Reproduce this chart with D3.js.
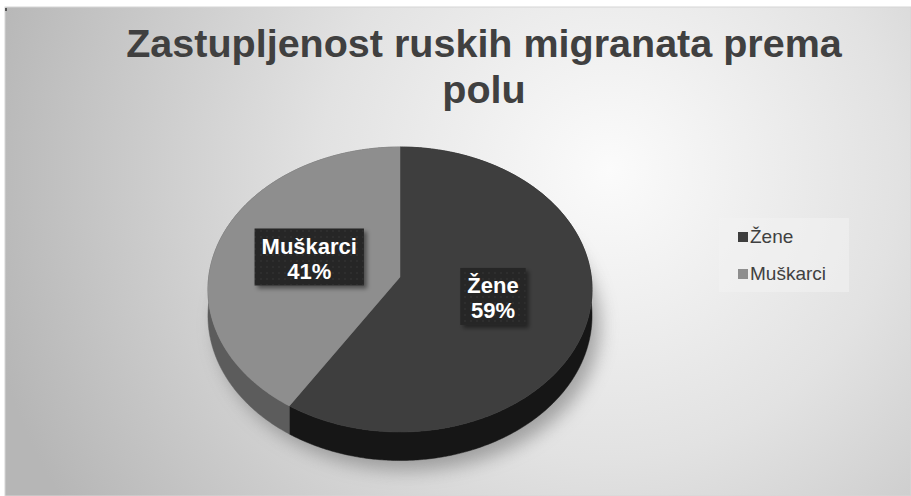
<!DOCTYPE html>
<html>
<head>
<meta charset="utf-8">
<script src="https://cdn.jsdelivr.net/npm/d3@7"></script>
<style>
  html, body { margin: 0; padding: 0; background: #ffffff; }
  svg { display: block; }
</style>
</head>
<body>
<svg id="chart" width="911" height="496"></svg>
<script>
// Chart data
const titleLines = ["Zastupljenost ruskih migranata prema", "polu"];
const categories = ["Žene", "Muškarci"];
const shares = [59, 41];
const topColors = ["#3e3e3e", "#8e8e8e"];
const sideColors = ["#161616", "#5c5c5c"];

const W = 911, H = 496;
const svg = d3.select("#chart");
const defs = svg.append("defs");

// Background of the chart area: soft radial light
const bg = defs.append("radialGradient").attr("id", "bgGrad")
  .attr("gradientUnits", "userSpaceOnUse")
  .attr("cx", 610).attr("cy", 170).attr("r", 640);
bg.append("stop").attr("offset", "0").attr("stop-color", "#fbfbfb");
bg.append("stop").attr("offset", "0.45").attr("stop-color", "#e2e2e2");
bg.append("stop").attr("offset", "1").attr("stop-color", "#b6b6b6");

svg.append("rect").attr("x", 5).attr("y", 7).attr("width", W - 5).attr("height", H - 7)
  .attr("fill", "url(#bgGrad)").attr("stroke", "#d6d6d6").attr("stroke-width", 1);
svg.append("rect").attr("x", 5).attr("y", 8).attr("width", 2).attr("height", 3).attr("fill", "#555");

// Title
const title = svg.append("text")
  .attr("text-anchor", "middle")
  .attr("font-family", "'Liberation Sans', Arial, sans-serif")
  .attr("font-weight", "bold").attr("font-size", 39.5)
  .attr("fill", "#404040");
titleLines.forEach((t, i) => {
  title.append("tspan").attr("x", 484).attr("y", 57 + i * 46).text(t);
});

// 3D pie projection with mild perspective
const cx = 400, cy = 277, A = 191.3, B = 141.4, persp = 0.0877, depth = 26;
const ang = d3.scaleLinear().domain([0, 2 * Math.PI]).range([0, 2 * Math.PI]);
function proj(theta, r, drop) {
  const u = r * Math.sin(theta), v = -r * Math.cos(theta);
  const w = 1 / (1 - persp * v);
  return [cx + A * u * w, cy + B * v * w + (drop ? depth * w : 0)];
}
function rim(a0, a1, drop) {
  const n = Math.max(8, Math.ceil((a1 - a0) / 0.01));
  return d3.range(n + 1).map(i => proj(ang(a0 + (a1 - a0) * i / n), 1, drop));
}

const arcs = d3.pie().sort(null).startAngle(0).endAngle(2 * Math.PI)(shares);
const line = d3.line();

// Soft shadow beneath the pie
const shf = defs.append("filter").attr("id", "pieShadow")
  .attr("x", "-20%").attr("y", "-20%").attr("width", "140%").attr("height", "140%");
shf.append("feGaussianBlur").attr("stdDeviation", 9);
const outline = rim(0, 2 * Math.PI, true);
svg.append("path")
  .attr("d", line(outline) + "Z")
  .attr("transform", "translate(8,10)")
  .attr("fill", "#6a6a6a").attr("opacity", 0.55)
  .attr("filter", "url(#pieShadow)");

const pieG = svg.append("g");
// Sides first
arcs.forEach((a, i) => {
  const top = rim(a.startAngle, a.endAngle, false);
  const bot = rim(a.startAngle, a.endAngle, true).reverse();
  pieG.append("path").attr("d", line(top.concat(bot)) + "Z")
    .attr("fill", sideColors[i]).attr("stroke", sideColors[i]).attr("stroke-width", 0.5);
});
// Top faces
arcs.forEach((a, i) => {
  const pts = [proj(0, 0, false)].concat(rim(a.startAngle, a.endAngle, false));
  pieG.append("path").attr("d", line(pts) + "Z")
    .attr("fill", topColors[i]).attr("stroke", topColors[i]).attr("stroke-width", 0.5);
});

// Data labels: dark dotted boxes with white text
const pat = defs.append("pattern").attr("id", "dots")
  .attr("patternUnits", "userSpaceOnUse").attr("width", 6).attr("height", 6);
pat.append("rect").attr("width", 6).attr("height", 6).attr("fill", "#262626");
pat.append("circle").attr("cx", 3).attr("cy", 3).attr("r", 0.8).attr("fill", "#353535");

const lf = defs.append("filter").attr("id", "labelShadow")
  .attr("x", "-20%").attr("y", "-20%").attr("width", "150%").attr("height", "150%");
lf.append("feDropShadow").attr("dx", 3).attr("dy", 3).attr("stdDeviation", 2)
  .attr("flood-color", "#000").attr("flood-opacity", 0.45);

arcs.forEach((a, i) => {
  const mid = (a.startAngle + a.endAngle) / 2;
  const [lx, ly] = proj(mid, 0.5, false);
  const g = svg.append("g");
  const box = g.append("rect").attr("fill", "url(#dots)").attr("filter", "url(#labelShadow)");
  const t = g.append("text").attr("text-anchor", "middle")
    .attr("font-family", "'Liberation Sans', Arial, sans-serif")
    .attr("font-weight", "bold").attr("font-size", 22).attr("fill", "#ffffff");
  const pct = Math.round(a.data / d3.sum(shares) * 100) + "%";
  t.append("tspan").attr("x", lx).attr("y", ly - 4).text(categories[i]);
  t.append("tspan").attr("x", lx).attr("y", ly + 21).text(pct);
  const bb = t.node().getBBox();
  box.attr("x", bb.x - 7).attr("y", bb.y - 5).attr("width", bb.width + 14).attr("height", bb.height + 7);
});

// Legend
const legend = svg.append("g");
legend.append("rect").attr("x", 719).attr("y", 218).attr("width", 130).attr("height", 74)
  .attr("fill", "#f2f2f2").attr("opacity", 0.55);
categories.forEach((c, i) => {
  const y = 243 + i * 37;
  legend.append("rect").attr("x", 738).attr("y", y - 11).attr("width", 10).attr("height", 10)
    .attr("fill", topColors[i]);
  legend.append("text").attr("x", 750).attr("y", y)
    .attr("font-family", "'Liberation Sans', Arial, sans-serif")
    .attr("font-size", 19).attr("fill", "#404040").text(c);
});
</script>
</body>
</html>
